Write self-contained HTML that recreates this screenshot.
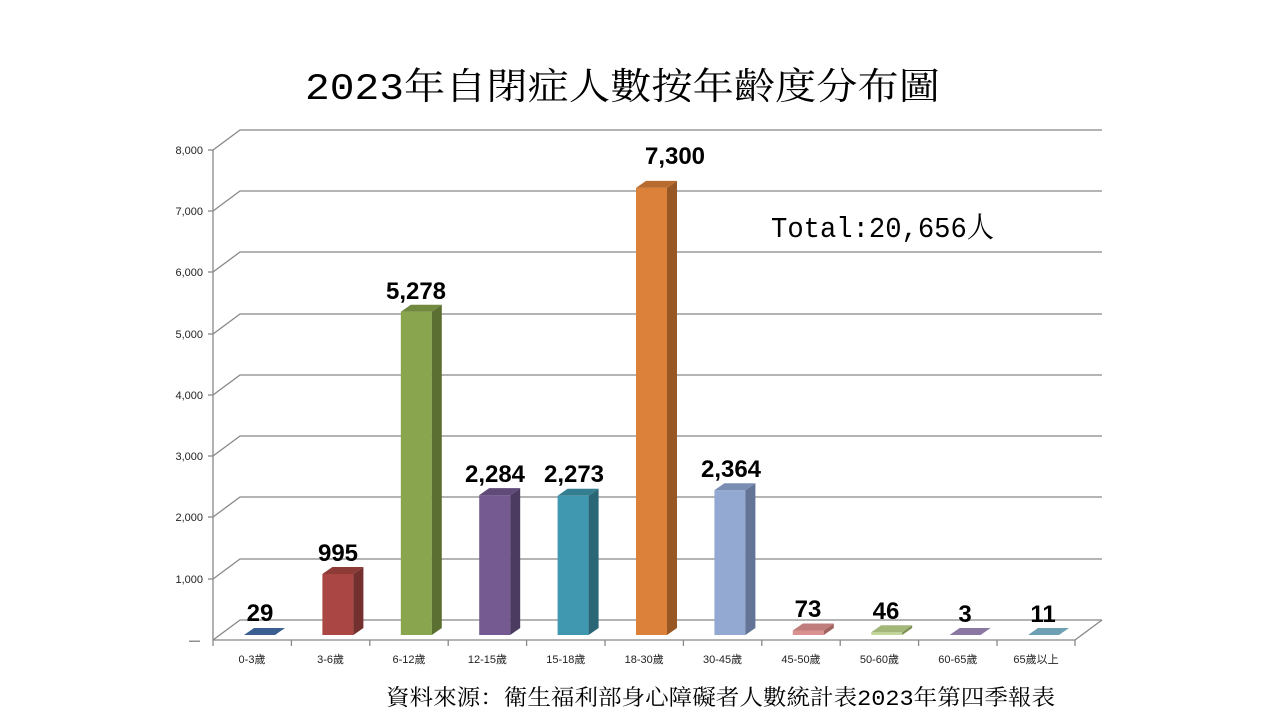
<!DOCTYPE html>
<html><head><meta charset="utf-8"><style>
body{margin:0;background:#fff;}
svg{display:block}
.ax{font-family:"Liberation Sans","Noto Sans CJK TC",sans-serif;font-size:11px;fill:#222}
.lb{font-family:"Liberation Sans",sans-serif;font-size:24px;font-weight:bold;fill:#000;text-anchor:middle}
.sf{font-family:"Liberation Mono","Noto Serif CJK SC",serif;fill:#000}
</style></head><body>
<svg width="1280" height="720" viewBox="0 0 1280 720">
<text class="sf" x="305" y="99" font-size="37" textLength="635" lengthAdjust="spacingAndGlyphs">2023年自閉症人數按年齡度分布圖</text>
<g stroke="#888" stroke-width="1.3" fill="none">
<polyline points="213,640 240,620 1102,620"/>
<polyline points="213,579 240,559 1102,559"/>
<polyline points="213,517 240,497 1102,497"/>
<polyline points="213,456 240,436 1102,436"/>
<polyline points="213,395 240,375 1102,375"/>
<polyline points="213,334 240,314 1102,314"/>
<polyline points="213,272 240,252 1102,252"/>
<polyline points="213,211 240,191 1102,191"/>
<polyline points="213,150 240,130 1102,130"/>
<line x1="213" y1="150" x2="213" y2="640"/>
<line x1="213" y1="640" x2="1075" y2="640"/>
<line x1="1075" y1="640" x2="1102" y2="620"/>
<g>
<line x1="208" y1="150" x2="213" y2="150"/><line x1="208" y1="211" x2="213" y2="211"/><line x1="208" y1="272" x2="213" y2="272"/><line x1="208" y1="334" x2="213" y2="334"/><line x1="208" y1="395" x2="213" y2="395"/><line x1="208" y1="456" x2="213" y2="456"/><line x1="208" y1="517" x2="213" y2="517"/><line x1="208" y1="579" x2="213" y2="579"/>
<line x1="213" y1="640" x2="213" y2="646"/><line x1="291.4" y1="640" x2="291.4" y2="646"/><line x1="369.8" y1="640" x2="369.8" y2="646"/><line x1="448.2" y1="640" x2="448.2" y2="646"/><line x1="526.6" y1="640" x2="526.6" y2="646"/><line x1="605" y1="640" x2="605" y2="646"/><line x1="683.4" y1="640" x2="683.4" y2="646"/><line x1="761.8" y1="640" x2="761.8" y2="646"/><line x1="840.2" y1="640" x2="840.2" y2="646"/><line x1="918.6" y1="640" x2="918.6" y2="646"/><line x1="997" y1="640" x2="997" y2="646"/><line x1="1075" y1="640" x2="1075" y2="646"/>
</g>
</g>
<g class="ax" text-anchor="end">
<text x="203" y="154">8,000</text><text x="203" y="215">7,000</text><text x="203" y="276">6,000</text><text x="203" y="338">5,000</text><text x="203" y="399">4,000</text><text x="203" y="460">3,000</text><text x="203" y="521">2,000</text><text x="203" y="583">1,000</text><text x="200" y="644">—</text>
</g>
<g class="ax" text-anchor="middle">
<text x="252" y="663">0-3歲</text><text x="330.6" y="663">3-6歲</text><text x="409" y="663">6-12歲</text><text x="487.4" y="663">12-15歲</text><text x="565.8" y="663">15-18歲</text><text x="644.2" y="663">18-30歲</text><text x="722.6" y="663">30-45歲</text><text x="801" y="663">45-50歲</text><text x="879.4" y="663">50-60歲</text><text x="957.8" y="663">60-65歲</text><text x="1036" y="663">65歲以上</text>
</g>
<g>
<polygon points="244,635 254,628 285,628 275,635" fill="#3b5f91"/>
<rect x="322.4" y="574" width="31" height="61" fill="#aa4744"/>
<polygon points="353.4,574 363.4,567 363.4,628 353.4,635" fill="#74302e"/>
<polygon points="322.4,574 332.4,567 363.4,567 353.4,574" fill="#8e3b38"/>
<rect x="400.8" y="311.7" width="31" height="323.3" fill="#89a54e"/>
<polygon points="431.8,311.7 441.8,304.7 441.8,628 431.8,635" fill="#5c6f33"/>
<polygon points="400.8,311.7 410.8,304.7 441.8,304.7 431.8,311.7" fill="#728a40"/>
<rect x="479.2" y="495.1" width="31" height="139.9" fill="#745a91"/>
<polygon points="510.2,495.1 520.2,488.1 520.2,628 510.2,635" fill="#4c3b61"/>
<polygon points="479.2,495.1 489.2,488.1 520.2,488.1 510.2,495.1" fill="#5f4a78"/>
<rect x="557.6" y="495.8" width="31" height="139.2" fill="#4098b0"/>
<polygon points="588.6,495.8 598.6,488.8 598.6,628 588.6,635" fill="#2a6676"/>
<polygon points="557.6,495.8 567.6,488.8 598.6,488.8 588.6,495.8" fill="#347e92"/>
<rect x="636" y="187.9" width="31" height="447.1" fill="#db8139"/>
<polygon points="667,187.9 677,180.9 677,628 667,635" fill="#985825"/>
<polygon points="636,187.9 646,180.9 677,180.9 667,187.9" fill="#b86b2e"/>
<rect x="714.4" y="490.2" width="31" height="144.8" fill="#94a9d2"/>
<polygon points="745.4,490.2 755.4,483.2 755.4,628 745.4,635" fill="#647496"/>
<polygon points="714.4,490.2 724.4,483.2 755.4,483.2 745.4,490.2" fill="#7a8db3"/>
<rect x="792.8" y="630.5" width="31" height="4.5" fill="#d9928f"/>
<polygon points="823.8,630.5 833.8,623.5 833.8,628 823.8,635" fill="#a06460"/>
<polygon points="792.8,630.5 802.8,623.5 833.8,623.5 823.8,630.5" fill="#bf7e7b"/>
<rect x="871.2" y="632.2" width="31" height="2.8" fill="#c3d69b"/>
<polygon points="902.2,632.2 912.2,625.2 912.2,628 902.2,635" fill="#7d9050"/>
<polygon points="871.2,632.2 881.2,625.2 912.2,625.2 902.2,632.2" fill="#a3b77a"/>
<polygon points="949.6,635 959.6,628 990.6,628 980.6,635" fill="#8a78a3"/>
<polygon points="1028,635 1038,628 1069,628 1059,635" fill="#6f9fb2"/>
</g>
<g class="lb">
<text x="260" y="621">29</text>
<text x="338" y="561">995</text>
<text x="416" y="299">5,278</text>
<text x="495" y="482">2,284</text>
<text x="574" y="482">2,273</text>
<text x="675" y="164">7,300</text>
<text x="731" y="477">2,364</text>
<text x="808" y="617">73</text>
<text x="886" y="619">46</text>
<text x="965" y="622">3</text>
<text x="1043" y="622">11</text>
</g>
<text class="sf" x="771" y="237" font-size="29" textLength="223" lengthAdjust="spacingAndGlyphs">Total:20,656人</text>
<text class="sf" x="386" y="705" font-size="22" textLength="669" lengthAdjust="spacingAndGlyphs">資料來源：衛生福利部身心障礙者人數統計表2023年第四季報表</text>
</svg>
</body></html>
